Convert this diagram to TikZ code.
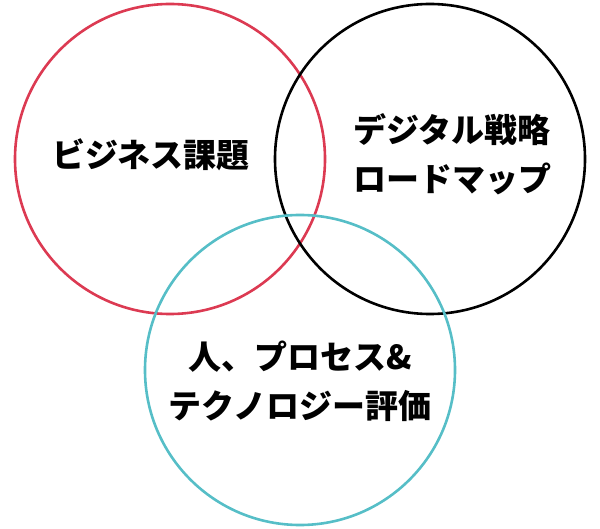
\documentclass[tikz,border=0pt]{standalone}
\usepackage{fontspec}
\usepackage{tikz}
\newfontfamily\jpfont{Noto Sans CJK JP}
\definecolor{ringred}{RGB}{220,58,82}
\definecolor{ringteal}{RGB}{86,190,199}

\begin{document}
\begin{tikzpicture}[x=1pt, y=-1pt,
        ring/.style={line width=2.6pt},
        tag/.style={font=\jpfont\bfseries\fontsize{33}{49}\selectfont, align=center, inner sep=0pt}]

        \useasboundingbox (0,0) rectangle (600,529);

        \coordinate (issues) at (170,159);
        \coordinate (roadmap) at (430,159);
        \coordinate (review) at (300,370);

        \draw[ringred, ring] (issues) circle[radius=155pt];
        \draw[black, ring] (roadmap) circle[radius=155pt];
        \draw[ringteal, ring] (review) circle[radius=155pt];

        \node[tag] (issuestext) at (151,155) {ビジネス課題};
        \node[tag] (roadmaptext) at (452,154) {デジタル戦略\\ロードマップ};
        \node[tag] (reviewtext) at (300,381) {人、プロセス\&\\テクノロジー評価};

    \end{tikzpicture}
\end{document}
